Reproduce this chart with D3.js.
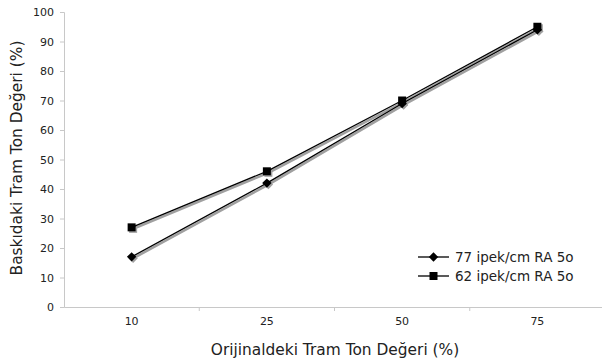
<!DOCTYPE html>
<html>
<head>
<meta charset="utf-8">
<script src="https://cdn.jsdelivr.net/npm/d3@7"></script>
<style>
  body { margin: 0; background: #fff; }
  text { font-family: "DejaVu Sans", Verdana, sans-serif; fill: #222; }
</style>
</head>
<body>
<svg></svg>
<script>
var width = 602;
var height = 362;

var categories = ['10', '25', '50', '75'];
var yTicks = [0, 10, 20, 30, 40, 50, 60, 70, 80, 90, 100];
var series77 = [17, 42, 69, 94];
var series62 = [27, 46, 70, 95];
var seriesNames = ['77 ipek/cm RA 5o', '62 ipek/cm RA 5o'];

var svg = d3.select('svg')
    .attr('width', width)
    .attr('height', height);

var x = d3.scaleBand()
    .domain(categories)
    .range([64, 605]);

var y = d3.scaleLinear()
    .domain([0, 100])
    .range([307, 12]);

// y axis
var yAxis = svg.append('g')
    .attr('transform', 'translate(64,0)')
    .call(d3.axisLeft(y).tickValues(yTicks).tickSize(4).tickPadding(6));
yAxis.select('.domain').attr('stroke', '#c8c8c8');
yAxis.selectAll('.tick line').attr('stroke', '#c8c8c8');
yAxis.selectAll('text').style('font-size', '11px').attr('fill', '#222');

// x axis
var xAxis = svg.append('g')
    .attr('transform', 'translate(0,307)')
    .call(d3.axisBottom(x).tickSize(0).tickPadding(10));
xAxis.select('.domain').attr('stroke', '#c8c8c8');
xAxis.selectAll('text').style('font-size', '11px').attr('fill', '#222');

// ticks between categories
svg.append('g').selectAll('line')
    .data(categories)
    .enter()
    .append('line')
    .attr('x1', function (d) { return x(d) + x.bandwidth(); })
    .attr('x2', function (d) { return x(d) + x.bandwidth(); })
    .attr('y1', 307)
    .attr('y2', 311)
    .attr('stroke', '#c8c8c8');

// titles
svg.append('text')
    .attr('x', 335)
    .attr('y', 355)
    .attr('text-anchor', 'middle')
    .style('font-size', '15.4px')
    .text('Orijinaldeki Tram Ton Değeri (%)');

svg.append('text')
    .attr('transform', 'translate(22,158) rotate(-90)')
    .attr('text-anchor', 'middle')
    .style('font-size', '15.4px')
    .text('Baskıdaki Tram Ton Değeri (%)');

var line = d3.line()
    .x(function (d, i) { return x(categories[i]) + x.bandwidth() / 2; })
    .y(function (d) { return y(d); });

var diamond = d3.symbol().type(d3.symbolSquare).size(44);
var square = d3.symbol().type(d3.symbolSquare).size(64);

function drawSeries(values, symbol, rot, dx, color, sw) {
    var g = svg.append('g').attr('transform', 'translate(' + dx + ',' + dx + ')');
    g.append('path')
        .attr('d', line(values))
        .attr('fill', 'none')
        .attr('stroke', color)
        .attr('stroke-width', sw);
    g.selectAll('path.m')
        .data(values)
        .enter()
        .append('path')
        .attr('class', 'm')
        .attr('d', symbol)
        .attr('transform', function (d, i) {
            return 'translate(' + (x(categories[i]) + x.bandwidth() / 2) + ',' + y(d) + ') rotate(' + rot + ')';
        })
        .attr('fill', color);
}

// shadows
drawSeries(series77, diamond, 45, 1.5, '#a0a0a0', 2.5);
drawSeries(series62, square, 0, 1.5, '#a0a0a0', 2.5);
// series
drawSeries(series77, diamond, 45, 0, '#000', 1.3);
drawSeries(series62, square, 0, 0, '#000', 1.3);

// legend
var legend = svg.append('g');
var symbols = [diamond, square];
var rots = [45, 0];
seriesNames.forEach(function (name, i) {
    var ly = 257 + i * 19;
    legend.append('line')
        .attr('x1', 418).attr('x2', 449)
        .attr('y1', ly).attr('y2', ly)
        .attr('stroke', '#000').attr('stroke-width', 1.3);
    legend.append('path')
        .attr('d', symbols[i]())
        .attr('transform', 'translate(433.5,' + ly + ') rotate(' + rots[i] + ')')
        .attr('fill', '#000');
    legend.append('text')
        .attr('x', 455)
        .attr('y', ly + 5)
        .style('font-size', '13.5px')
        .text(name);
});
</script>
</body>
</html>
